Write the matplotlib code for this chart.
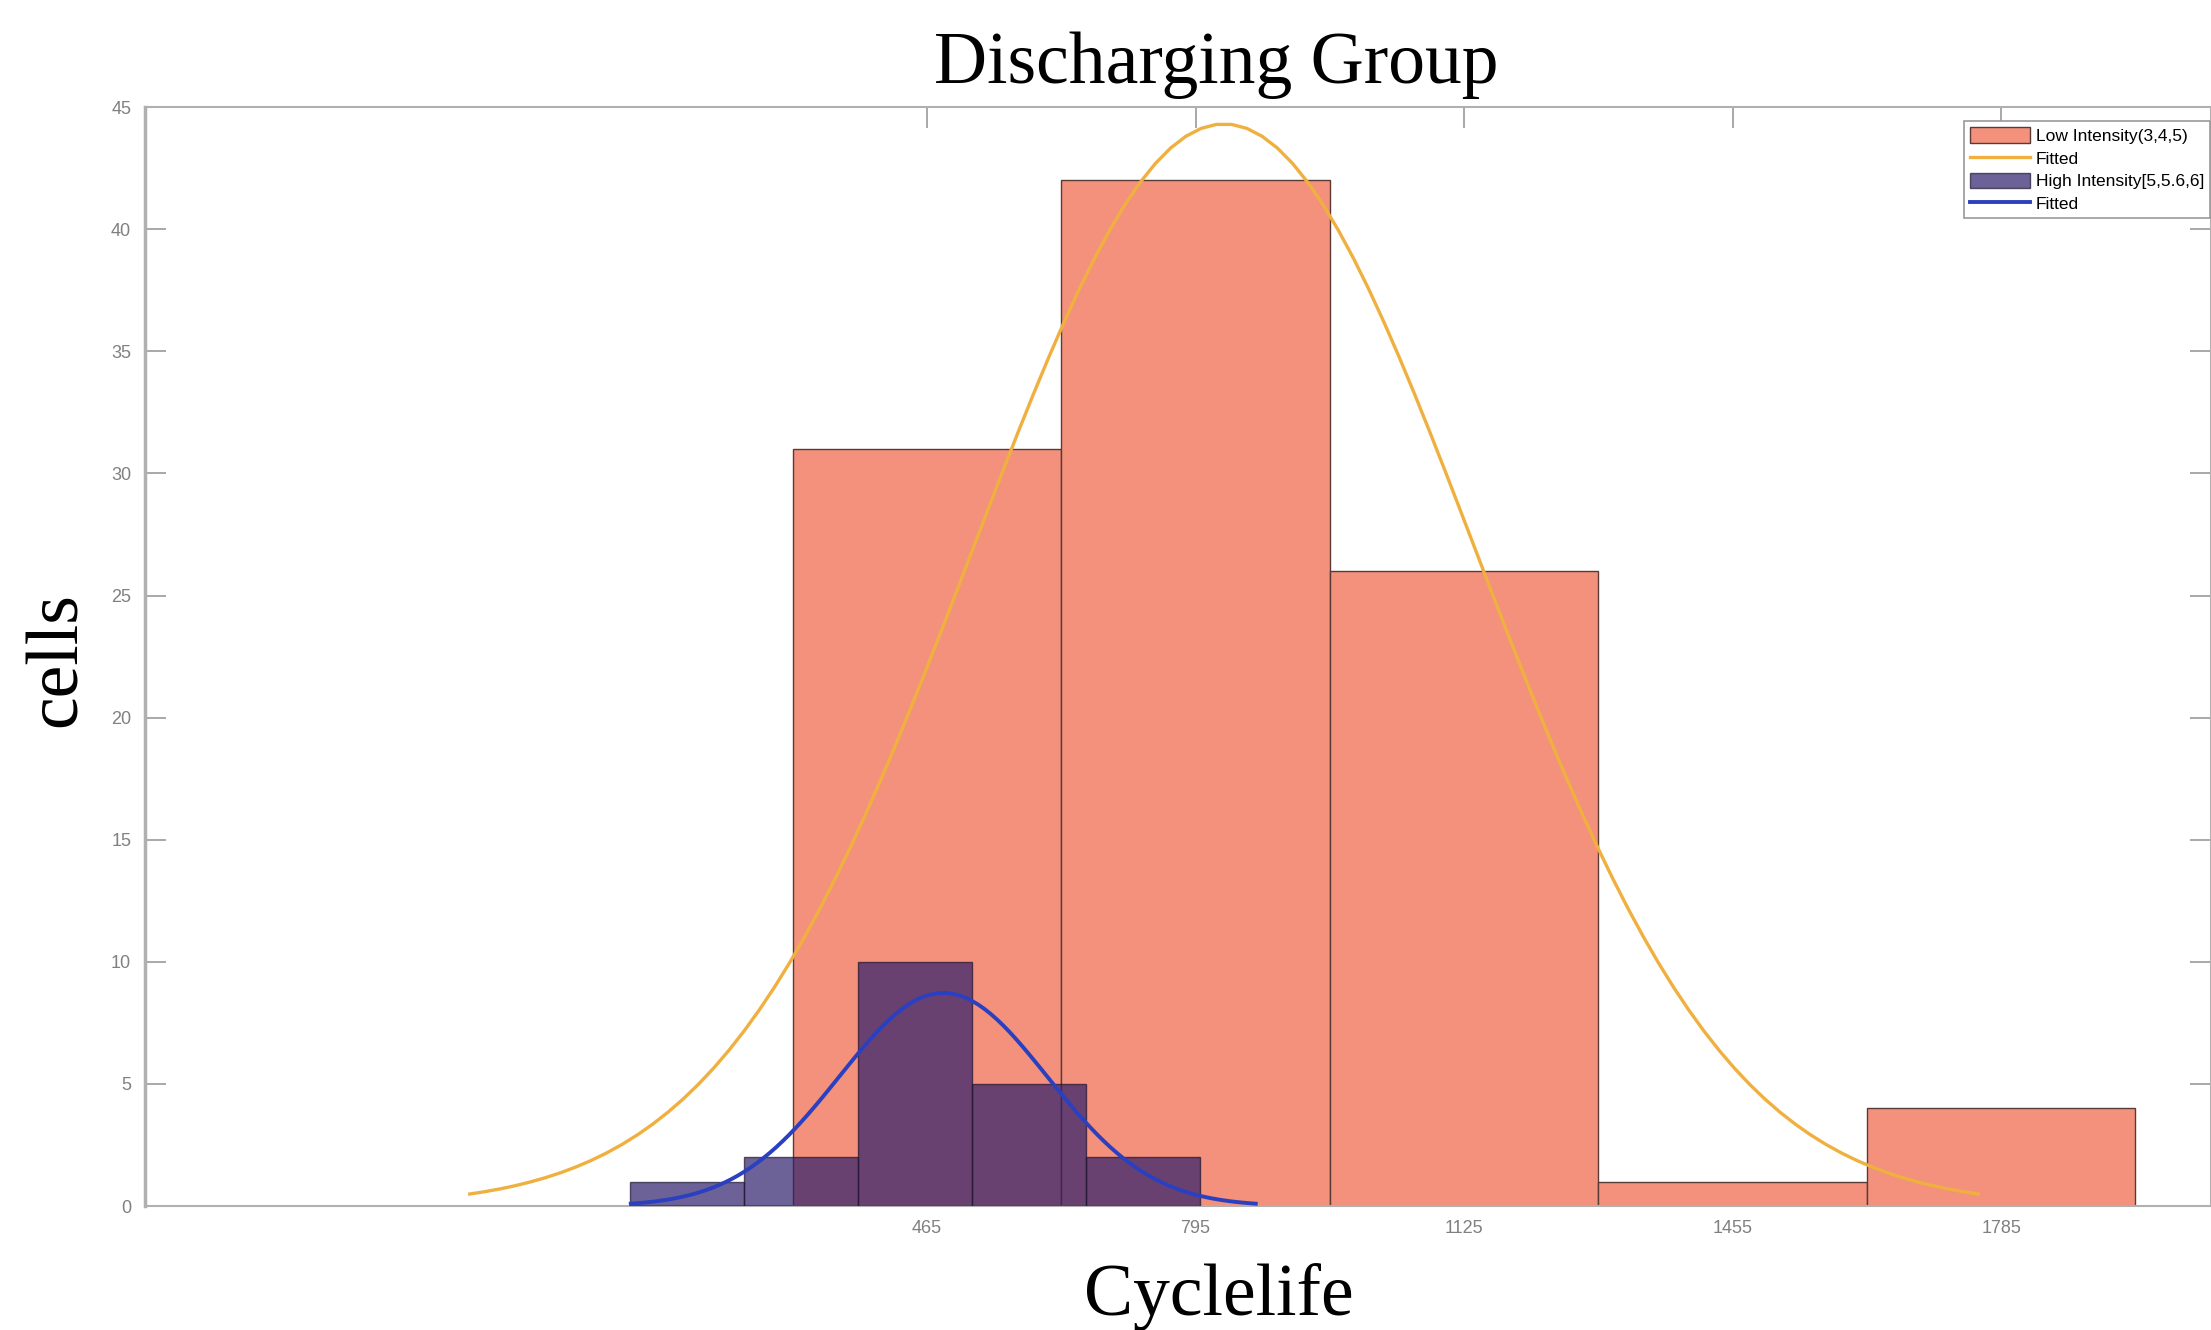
import numpy as np
import matplotlib
matplotlib.use("Agg")
import matplotlib.pyplot as plt

# histogram data
low_edges = [300, 630, 960, 1290, 1620, 1950]
low_counts = [31, 42, 26, 1, 4]
high_edges = [100, 240, 380, 520, 660, 800]
high_counts = [1, 2, 10, 5, 2]

# fitted normal parameters (mean, std) as drawn
low_mu, low_sigma = 830, 309
high_mu, high_sigma = 485, 128

xtick_vals = [465, 795, 1125, 1455, 1785]
ytick_vals = [0, 5, 10, 15, 20, 25, 30, 35, 40, 45]

low_label = "Low Intensity(3,4,5)"
high_label = "High Intensity[5,5.6,6]"

ORANGE = "#f3917c"
PURPLE = "#2e1f6b"
YELLOW = "#f0b040"
BLUE = "#2a40c0"
GREY = "#9a9a9a"


def fit_curve(mu, sigma, counts, edges):
    # histfit style: normal pdf over mu +/- 3 sigma, scaled to counts * bin width
    n = sum(counts)
    bw = edges[1] - edges[0]
    x = np.linspace(mu - 3 * sigma, mu + 3 * sigma, 100)
    y = n * bw * np.exp(-0.5 * ((x - mu) / sigma) ** 2) / (sigma * np.sqrt(2 * np.pi))
    return x, y


fig = plt.figure(figsize=(22.11, 13.30), dpi=100)
ax = fig.add_axes([0.0656, 0.0932, 0.9344, 0.8263])

b1 = ax.bar(low_edges[:-1], low_counts, width=np.diff(low_edges), align="edge",
            color=ORANGE, edgecolor="#5a3a35", linewidth=1.0, label=low_label, zorder=2)
lx, ly = fit_curve(low_mu, low_sigma, low_counts, low_edges)
l1, = ax.plot(lx, ly, color=YELLOW, lw=2.4, label="Fitted", zorder=3)

b2 = ax.bar(high_edges[:-1], high_counts, width=np.diff(high_edges), align="edge",
            color=PURPLE, alpha=0.7, edgecolor="#201530", linewidth=1.0,
            label=high_label, zorder=4)
hx, hy = fit_curve(high_mu, high_sigma, high_counts, high_edges)
l2, = ax.plot(hx, hy, color=BLUE, lw=2.8, label="Fitted", zorder=5)

ax.set_xlim(-496, 2043)
ax.set_ylim(0, 45)
ax.set_xticks(xtick_vals)
ax.set_yticks(ytick_vals)
ax.tick_params(direction="in", length=15, width=1.2, color=GREY,
               labelcolor="#808080", labelsize=13,
               top=True, right=True)
ax.tick_params(axis="x", pad=10)
ax.tick_params(axis="y", pad=10)
for lab in ax.get_xticklabels() + ax.get_yticklabels():
    lab.set_family("Liberation Sans")
for side in ["left", "bottom", "top", "right"]:
    ax.spines[side].set_color("#b0b0b0")
    ax.spines[side].set_linewidth(1.5)
ax.spines["left"].set_linewidth(2.5)

leg = ax.legend([b1, l1, b2, l2], [low_label, "Fitted", high_label, "Fitted"],
                loc="upper right", bbox_to_anchor=(2210 / 2211, 1 - 121 / 1330),
                bbox_transform=fig.transFigure,
                prop={"family": "Liberation Sans", "size": 12.5},
                handlelength=3.5, handleheight=1.0, handletextpad=0.3,
                labelspacing=0.35, borderpad=0.35, borderaxespad=0,
                fancybox=False, framealpha=1)
leg.get_frame().set_edgecolor("#999999")
leg.get_frame().set_linewidth(1.2)

serif = ["Liberation Serif", "DejaVu Serif"]
fig.text(1216 / 2211, 1 - 83 / 1330, "Discharging Group", family=serif,
         fontsize=53, ha="center", va="baseline")
fig.text(1219 / 2211, 1 - 1315 / 1330, "Cyclelife", family=serif,
         fontsize=53, ha="center", va="baseline")
fig.text(92 / 2211, 1 - 660 / 1330, "cells", family=serif, fontsize=53,
         rotation=90, ha="right", va="center")

fig.savefig("out.png", dpi=100)
